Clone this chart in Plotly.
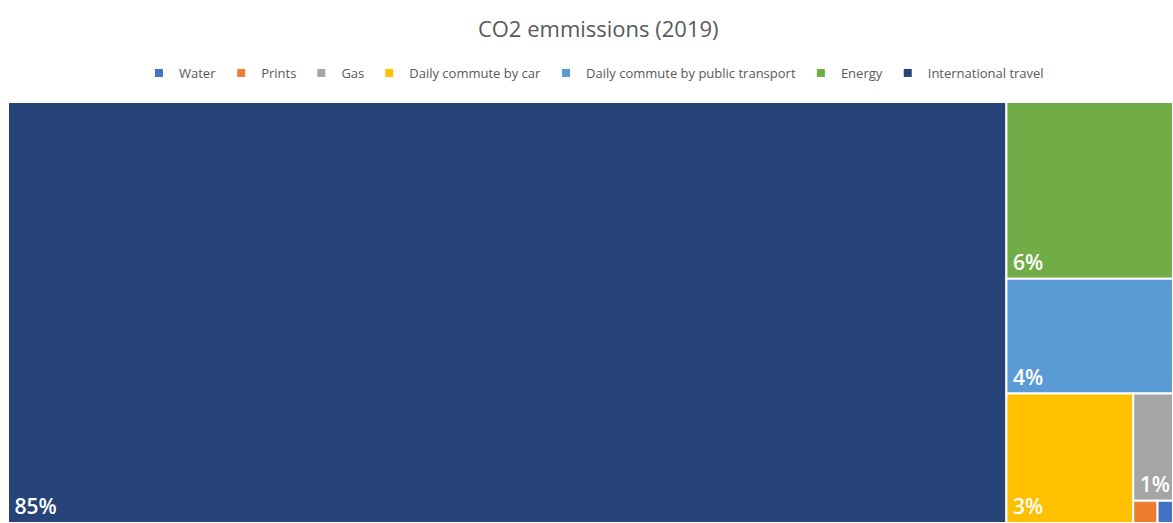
import plotly.graph_objects as go

# Data
categories = ["Water", "Prints", "Gas", "Daily commute by car",
              "Daily commute by public transport", "Energy", "International travel"]
values = [0.07, 0.11, 0.87, 3.35, 3.9, 6.0, 85.7]
pct_labels = ["0%", "0%", "1%", "3%", "4%", "6%", "85%"]
colors = ["#4472C4", "#ED7D31", "#A5A5A5", "#FFC000", "#5B9BD5", "#70AD47", "#264478"]

W, H = 1173, 523

fig = go.Figure()

fig.add_trace(go.Treemap(
    labels=categories,
    parents=[""] * len(categories),
    values=values,
    text=pct_labels,
    texttemplate="\u2009%{text}",
    textposition="bottom left",
    textfont=dict(family="Open Sans", size=22, color="white", weight=600),
    marker=dict(colors=colors, line=dict(color="white", width=2),
                pad=dict(t=0, l=0, r=0, b=0)),
    tiling=dict(packing="squarify", pad=0),
    pathbar=dict(visible=False),
    sort=True,
    hoverinfo="skip",
    domain=dict(x=[0, 1], y=[0, 1]),
))

# Legend entries
for name, col in zip(categories, colors):
    fig.add_trace(go.Scatter(
        x=[None], y=[None], mode="markers", name=name,
        marker=dict(symbol="square", size=8, color=col),
        showlegend=True, hoverinfo="skip",
    ))

fig.update_layout(
    width=W, height=H,
    margin=dict(l=8, r=0, t=102, b=0),
    paper_bgcolor="white", plot_bgcolor="white",
    title=dict(text="CO2 emmissions (2019)", x=0.51, xanchor="center",
               y=1 - 29 / H, yanchor="middle", yref="container",
               font=dict(family="Open Sans", size=22, color="#595959")),
    legend=dict(orientation="h", x=594 / W, xanchor="center", xref="container",
                y=1 - 73 / H, yanchor="middle", yref="container",
                font=dict(family="Open Sans", size=13, color="#595959"),
                itemwidth=30, tracegroupgap=0),
    xaxis=dict(visible=False), yaxis=dict(visible=False),
    uniformtext=dict(minsize=14, mode="hide"),
)

fig.write_html("out.html", config={"displayModeBar": False},
               post_script="document.body.style.margin='0';document.body.style.overflow='hidden';")
